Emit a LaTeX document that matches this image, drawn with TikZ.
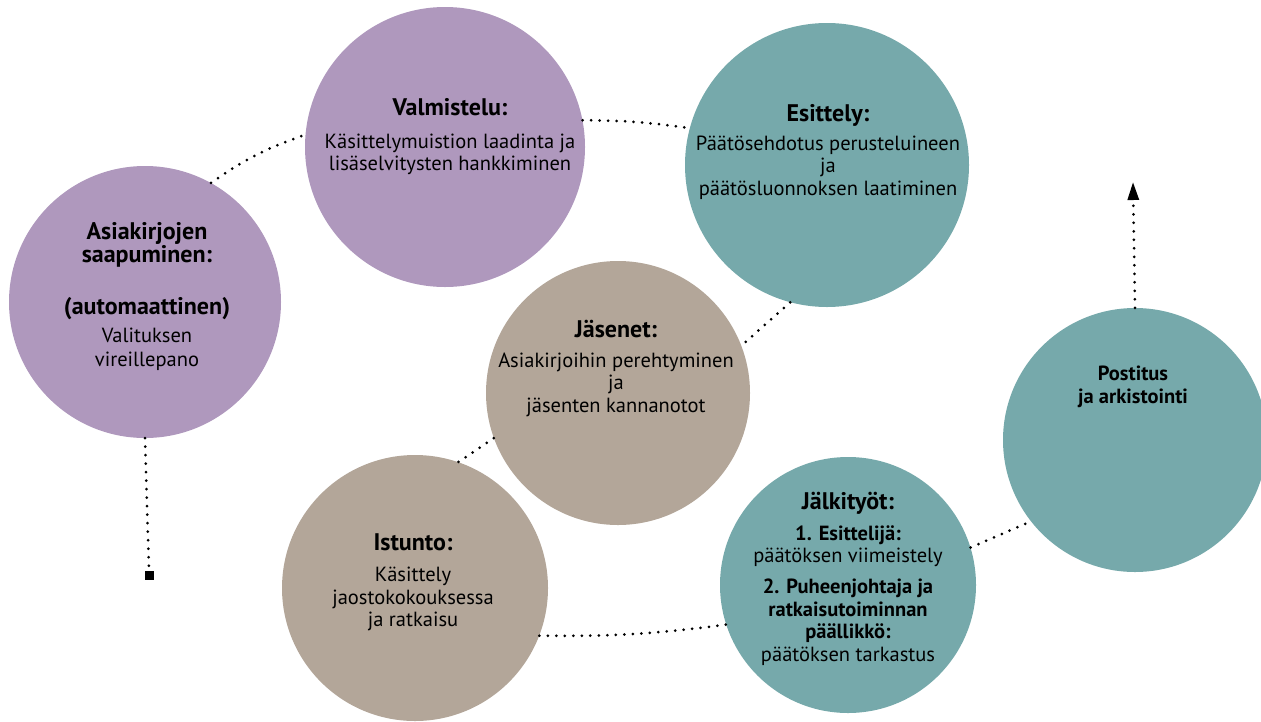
\documentclass[tikz,border=0pt]{standalone}
\usepackage{fontspec}
\setmainfont{PT Sans}
\usetikzlibrary{arrows.meta}
\definecolor{cpurple}{HTML}{AF98BD}
\definecolor{cteal}{HTML}{76A9AB}
\definecolor{ctaupe}{HTML}{B3A699}
\newcommand\headtxt[1]{{\fontsize{24}{22.5}\selectfont\bfseries #1}}
\tikzset{
  blob/.style={circle, inner sep=0pt, draw=none},
  lbl/.style={align=center, anchor=north, inner sep=0pt, font=\fontsize{20.5}{22.5}\selectfont},
  dotline/.style={line width=3pt, dash pattern=on 0pt off 8.5pt, line cap=round},
}
\begin{document}
\begin{tikzpicture}[x=1pt, y=-1pt]
\useasboundingbox (0,0) rectangle (1261,721);
% circles
\node[blob, fill=cpurple, minimum size=272pt] (c1) at (145,302) {};
\node[blob, fill=cpurple, minimum size=280pt] (c2) at (445,147) {};
\node[blob, fill=cteal, minimum size=284pt] (c3) at (827,165) {};
\node[blob, fill=ctaupe, minimum size=264pt] (c4) at (618,393) {};
\node[blob, fill=ctaupe, minimum size=266pt] (c5) at (415,588) {};
\node[blob, fill=cteal, minimum size=256pt] (c6) at (848,585) {};
\node[blob, fill=cteal, minimum size=264pt] (c7) at (1135,440) {};
% labels
\node[lbl] (t1) at (147,222) {\headtxt{Asiakirjojen}\\[1pt]\headtxt{saapuminen:}\\[29pt]\headtxt{(automaattinen)}\\[6pt]Valituksen\\[1.5pt]vireillepano};
\node[lbl] (t2) at (450,98) {\headtxt{Valmistelu:}\\[10.5pt]Käsittelymuistion laadinta ja\\lisäselvitysten hankkiminen};
\node[lbl] (t3) at (828,104) {\headtxt{Esittely:}\\[6.5pt]Päätösehdotus perusteluineen\\ja\\päätösluonnoksen laatiminen};
\node[lbl] (t4) at (616,320) {\headtxt{Jäsenet:}\\[7pt]Asiakirjoihin perehtyminen\\ja\\jäsenten kannanotot};
\node[lbl] (t5) at (413,533) {\headtxt{Istunto:}\\[9pt]Käsittely\\jaostokokouksessa\\ja ratkaisu};
\node[lbl] (t6) at (848,492) {\headtxt{Jälkityöt:}\\[8.5pt]\textbf{1. Esittelijä:}\\[-0.5pt]päätöksen viimeistely\\[8.5pt]\textbf{2. Puheenjohtaja ja}\\\textbf{ratkaisutoiminnan}\\\textbf{päällikkö:}\\päätöksen tarkastus};
\node[lbl] (t7) at (1133,366) {\textbf{Postitus}\\\textbf{ja arkistointi}};
% end markers
\node[fill=black, minimum size=9pt, inner sep=0pt] (sq) at (149,575) {};
\coordinate (top) at (1133,182);
% connectors
\draw[dotline] (c1.61) to[bend left=8] (c2.175);
\draw[dotline] (c2.11) to[bend left=4] (c3.165);
\draw[dotline] (c3.255) -- (c4.21);
\draw[dotline] (c4.200) -- (c5.71);
\draw[dotline] (c5.-21) to[bend right=4] (c6.198);
\draw[dotline] (c6.17) -- (c7.218);
\draw[dotline] (c1.south) -- (sq.north);
\draw[dotline, -{Triangle[length=18pt,width=11pt]}] (c7.north) -- (top);
\end{tikzpicture}
\end{document}
